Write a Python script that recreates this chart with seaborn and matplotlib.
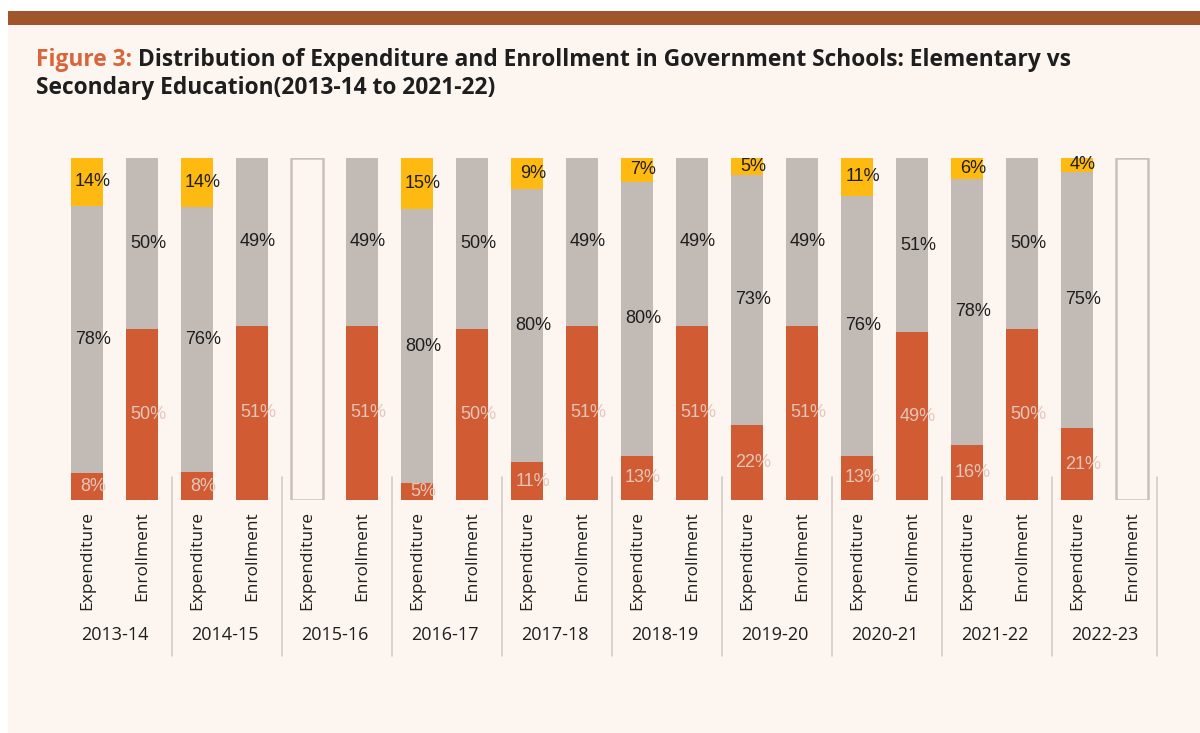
import numpy as np
import pandas as pd
import matplotlib
matplotlib.use("Agg")
import matplotlib.pyplot as plt
import matplotlib.transforms as mtransforms
from matplotlib.patches import Rectangle
from matplotlib.lines import Line2D
import seaborn as sns

# ---------------- data ----------------
years = ["2013-14", "2014-15", "2015-16", "2016-17", "2017-18",
         "2018-19", "2019-20", "2020-21", "2021-22", "2022-23"]
kinds = ["Expenditure", "Enrollment"]

# Expenditure shares (%), None = not available
exp_secondary = [8, 8, None, 5, 11, 13, 22, 13, 16, 21]          # orange
exp_elementary = [78, 76, None, 80, 80, 80, 73, 76, 78, 75]      # grey
exp_other = [14, 14, None, 15, 9, 7, 5, 11, 6, 4]                # yellow

# Enrollment shares (%)
enr_secondary = [50, 51, 51, 50, 51, 51, 51, 49, 50, None]       # orange
enr_elementary = [50, 49, 49, 50, 49, 49, 49, 51, 50, None]      # grey

# ---------------- styling ----------------
ORANGE = "#D15B32"
GREY = "#C2BAB5"
YELLOW = "#FFBA12"
CREAM = "#FDF6F0"
BROWN = "#A0552A"
TITLE_ORANGE = "#D9653B"
BOX = "#C9C0BA"
SEP = "#D3CBC6"
DARK = "#1E1E1E"
LIGHT = "#E4C6BA"

sns.set_theme(style="white")
plt.rcParams["font.family"] = ["Open Sans", "DejaVu Sans"]

# ---------------- build table ----------------
rows = []
for i, y in enumerate(years):
    rows.append(dict(pos=f"{y}|Expenditure", kind="Expenditure", year=y,
                     orange=exp_secondary[i], grey=exp_elementary[i], yellow=exp_other[i]))
    rows.append(dict(pos=f"{y}|Enrollment", kind="Enrollment", year=y,
                     orange=enr_secondary[i], grey=enr_elementary[i], yellow=0))
df = pd.DataFrame(rows)
order = list(df["pos"])
for c in ["orange", "grey", "yellow"]:
    df[c] = pd.to_numeric(df[c], errors="coerce")
df["missing"] = df["orange"].isna()
tot = df[["orange", "grey", "yellow"]].sum(axis=1)
df["f_orange"] = df["orange"] / tot
df["f_grey"] = df["grey"] / tot
df["f_yellow"] = df["yellow"] / tot
df["cum_grey"] = df["f_orange"] + df["f_grey"]
df["cum_yellow"] = df["cum_grey"] + df["f_yellow"]

avail = df[~df["missing"]]
with_yellow = avail[avail["yellow"] > 0]
missing = df[df["missing"]].assign(box=1.0)

# ---------------- figure ----------------
W, H = 1200, 733
fig = plt.figure(figsize=(W / 100, H / 100), dpi=100)
fig.patch.set_facecolor("white")
fig.add_artist(Rectangle((8 / W, 0), 1 - 8 / W, (H - 25) / H,
                         transform=fig.transFigure, color=CREAM, zorder=0, lw=0))
fig.add_artist(Rectangle((8 / W, (H - 25) / H), 1 - 8 / W, 14 / H,
                         transform=fig.transFigure, color=BROWN, zorder=0, lw=0))

ax = fig.add_axes([59.5 / W, 233 / H, 1100 / W, 342 / H])
ax.set_facecolor("none")

bw = 0.58
sns.barplot(data=with_yellow, x="pos", y="cum_yellow", order=order, color=YELLOW,
            width=bw, errorbar=None, saturation=1, linewidth=0, ax=ax)
sns.barplot(data=avail, x="pos", y="cum_grey", order=order, color=GREY,
            width=bw, errorbar=None, saturation=1, linewidth=0, ax=ax)
sns.barplot(data=avail, x="pos", y="f_orange", order=order, color=ORANGE,
            width=bw, errorbar=None, saturation=1, linewidth=0, ax=ax)
sns.barplot(data=missing, x="pos", y="box", order=order, color=BOX, fill=False,
            width=bw, errorbar=None, saturation=1, linewidth=1.8, ax=ax)

# segment labels
dx = 0.11
lab_font = ["Liberation Sans", "DejaVu Sans"]
for _, r in avail.iterrows():
    i = order.index(r["pos"])
    ax.text(i + dx, r["f_orange"] / 2, f"{int(r['orange'])}%", ha="center", va="center",
            fontsize=13, color=LIGHT, family=lab_font)
    ax.text(i + dx, r["f_orange"] + r["f_grey"] / 2, f"{int(r['grey'])}%", ha="center",
            va="center", fontsize=13, color=DARK, family=lab_font)
    if r["yellow"] > 0:
        ax.text(i + dx, r["cum_grey"] + r["f_yellow"] / 2, f"{int(r['yellow'])}%",
                ha="center", va="center", fontsize=13, color=DARK, family=lab_font)

ax.set_xlim(-0.5, len(order) - 0.5)
ax.set_ylim(0, 1)
ax.set_yticks([])
ax.set_xticks(range(len(order)))
ax.set_xticklabels(list(df["kind"]), rotation=90, fontsize=12.5, color=DARK)
ax.tick_params(axis="x", length=0, pad=8)
ax.set_xlabel("")
ax.set_ylabel("")
for s in ax.spines.values():
    s.set_visible(False)

trans = mtransforms.blended_transform_factory(ax.transData, ax.transAxes)
for k, y in enumerate(years):
    ax.text(2 * k + 0.5, -0.395, y, transform=trans, ha="center", va="center",
            fontsize=13, color=DARK)
sep_x = [2 * k + 1.55 for k in range(len(years) - 1)] + [len(order) - 0.55]
for xs in sep_x:
    ax.add_line(Line2D([xs, xs], [0.067, -0.456], transform=trans, color=SEP,
                       lw=1.2, clip_on=False))

# ---------------- title ----------------
tx, ty1, ty2 = 36 / W, 1 - 60 / H, 1 - 88 / H
tfont = dict(fontsize=16.4, fontweight="bold", va="center", ha="left")
t1 = fig.text(tx, ty1, "Figure 3: ", color=TITLE_ORANGE, **tfont)
fig.canvas.draw()
bb = t1.get_window_extent()
fig.text(bb.x1 / W, ty1,
         "Distribution of Expenditure and Enrollment in Government Schools: Elementary vs",
         color=DARK, **tfont)
fig.text(tx, ty2, "Secondary Education(2013-14 to 2021-22)", color=DARK, **tfont)

fig.savefig("out.png", dpi=100, facecolor=fig.get_facecolor())
